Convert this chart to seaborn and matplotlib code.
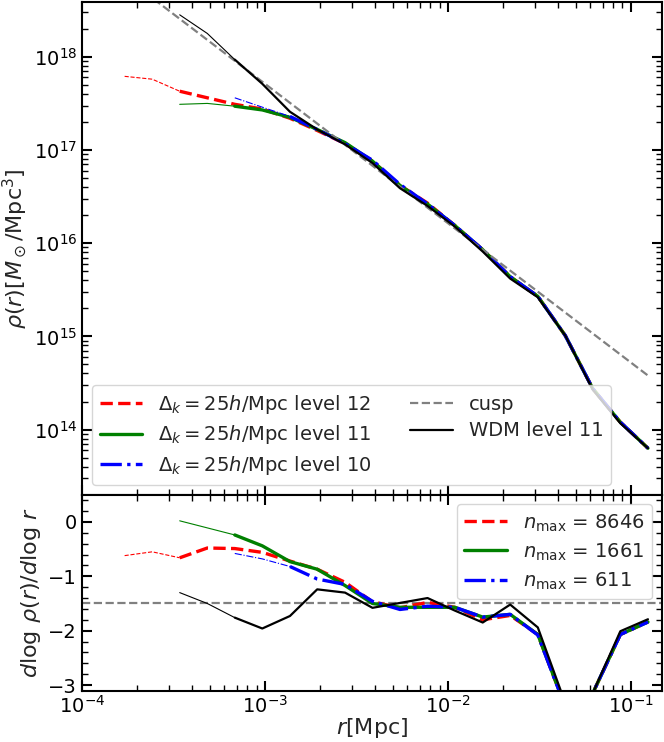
import numpy as np
import pandas as pd
import matplotlib
matplotlib.use("Agg")
import matplotlib.pyplot as plt
import seaborn as sns
from matplotlib.ticker import LogLocator, MultipleLocator, NullFormatter

# ---------------- data ----------------
r_bins = [1.71e-4, 2.42e-4, 3.42e-4, 4.84e-4, 6.84e-4, 9.67e-4, 1.37e-3,
          1.93e-3, 2.74e-3, 3.87e-3, 5.47e-3, 7.74e-3, 1.09e-2, 1.55e-2,
          2.19e-2, 3.10e-2, 4.38e-2, 6.19e-2, 8.76e-2, 1.24e-1]

# density profiles (first radius index of each series)
start_lvl12, start_lvl11, start_lvl10, start_wdm = 0, 2, 4, 2
rho_lvl12 = [6.17e17, 5.75e17, 4.27e17, 3.63e17, 3.09e17, 2.75e17, 2.19e17,
             1.62e17, 1.17e17, 7.59e16, 4.17e16, 2.69e16, 1.55e16, 8.51e15,
             4.37e15, 2.69e15, 1.02e15, 2.75e14, 1.20e14, 6.31e13]
rho_lvl11 = [3.09e17, 3.16e17, 2.95e17, 2.69e17, 2.24e17, 1.66e17, 1.20e17,
             7.59e16, 4.17e16, 2.63e16, 1.55e16, 8.51e15, 4.37e15, 2.69e15,
             1.02e15, 2.75e14, 1.20e14, 6.31e13]
rho_lvl10 = [3.63e17, 2.88e17, 2.29e17, 1.66e17, 1.17e17, 7.76e16, 4.27e16,
             2.63e16, 1.55e16, 8.51e15, 4.37e15, 2.69e15, 1.02e15, 2.75e14,
             1.20e14, 6.31e13]
rho_wdm = [2.82e18, 1.78e18, 9.33e17, 5.13e17, 2.57e17, 1.66e17, 1.15e17,
           7.24e16, 3.89e16, 2.51e16, 1.51e16, 8.13e15, 4.17e15, 2.63e15,
           1.02e15, 2.69e14, 1.17e14, 6.31e13]
cusp_r = [1.71e-4, 1.24e-1]
cusp_rho = [7.2e18, 3.8e14]

# logarithmic slopes
slope_lvl12 = [-0.62, -0.55, -0.66, -0.48, -0.49, -0.56, -0.72, -0.87, -1.11,
               -1.47, -1.58, -1.48, -1.57, -1.80, -1.72, -2.07, -3.40, -3.15,
               -2.07, -1.84]
slope_lvl11 = [0.02, -0.11, -0.24, -0.44, -0.73, -0.87, -1.17, -1.50, -1.57,
               -1.57, -1.57, -1.75, -1.70, -2.07, -3.40, -3.15, -2.07, -1.84]
slope_lvl10 = [-0.58, -0.68, -0.82, -1.05, -1.15, -1.46, -1.61, -1.55, -1.57,
               -1.75, -1.70, -2.08, -3.40, -3.15, -2.07, -1.84]
slope_wdm = [-1.30, -1.50, -1.76, -1.96, -1.73, -1.24, -1.30, -1.58, -1.49,
             -1.40, -1.63, -1.85, -1.52, -1.94, -3.33, -3.15, -2.01, -1.79]
cusp_slope = -1.5

labels_top = [r"$\Delta_k = 25h$/Mpc level 12",
              r"$\Delta_k = 25h$/Mpc level 11",
              r"$\Delta_k = 25h$/Mpc level 10",
              "cusp", "WDM level 11"]
labels_bottom = [r"$n_{\rm max}$ = 8646", r"$n_{\rm max}$ = 1661",
                 r"$n_{\rm max}$ = 611"]

# ---------------- style ----------------
sns.set_style("ticks")
plt.rcParams.update({
    "font.family": ["DejaVu Sans"],
    "mathtext.fontset": "dejavusans",
    "axes.linewidth": 1.5,
    "xtick.direction": "in", "ytick.direction": "in",
    "xtick.top": True, "ytick.right": True,
    "xtick.major.size": 7, "ytick.major.size": 7,
    "xtick.minor.size": 4, "ytick.minor.size": 4,
    "xtick.major.width": 1.5, "ytick.major.width": 1.5,
    "xtick.minor.width": 1.0, "ytick.minor.width": 1.0,
    "xtick.minor.visible": True, "ytick.minor.visible": True,
    "xtick.labelsize": 14, "ytick.labelsize": 14,
    "axes.labelsize": 16, "legend.fontsize": 14,
    "axes.edgecolor": "black",
    "xtick.color": "black", "ytick.color": "black",
})

fig = plt.figure(figsize=(6.64, 7.42), dpi=100)
gs = fig.add_gridspec(2, 1, height_ratios=[493, 196], hspace=0.0,
                      left=0.1235, right=0.997, top=0.997, bottom=0.0694)
ax1 = fig.add_subplot(gs[0])
ax2 = fig.add_subplot(gs[1], sharex=ax1)
for ax in (ax1, ax2):
    ax.set_xscale("log")
ax1.set_yscale("log")

series = [
    ("red", "--", start_lvl12, rho_lvl12, slope_lvl12),
    ("green", "-", start_lvl11, rho_lvl11, slope_lvl11),
    ("blue", "-.", start_lvl10, rho_lvl10, slope_lvl10),
]
n_thin = 3
lw_thin, lw_thick = 0.8, 2.4


def draw(ax, x, y, color, ls, thin_lw, thick_lw, zorder=2):
    sns.lineplot(x=x[:n_thin], y=y[:n_thin], ax=ax, color=color,
                 linestyle=ls, linewidth=thin_lw, estimator=None, sort=False,
                 zorder=zorder)
    sns.lineplot(x=x[n_thin - 1:], y=y[n_thin - 1:], ax=ax, color=color,
                 linestyle=ls, linewidth=thick_lw, estimator=None, sort=False,
                 zorder=zorder)
    return ax.lines[-1]


handles_top, handles_bot = [], []
for color, ls, s0, rho, slope in series:
    rr = r_bins[s0:s0 + len(rho)]
    handles_top.append(draw(ax1, rr, rho, color, ls, lw_thin, lw_thick))
    rr2 = r_bins[s0:s0 + len(slope)]
    handles_bot.append(draw(ax2, rr2, slope, color, ls, lw_thin, lw_thick))

sns.lineplot(x=cusp_r, y=cusp_rho, ax=ax1, color="gray", linestyle="--",
             linewidth=1.6, estimator=None, zorder=2)
h_cusp = ax1.lines[-1]
ax2.axhline(cusp_slope, color="gray", linestyle="--", linewidth=1.6, zorder=1)

rw = r_bins[start_wdm:start_wdm + len(rho_wdm)]
h_wdm = draw(ax1, rw, rho_wdm, "black", "-", 0.8, 1.6, zorder=3)
draw(ax2, rw, slope_wdm, "black", "-", 0.8, 1.6, zorder=3)

handles_top += [h_cusp, h_wdm]

# ---------------- axes ----------------
ax1.set_xlim(1e-4, 0.148)
ax1.set_ylim(2.0e13, 3.85e18)
ax2.set_ylim(-3.1, 0.5)

ax1.yaxis.set_major_locator(LogLocator(base=10, numticks=20))
ax1.yaxis.set_minor_locator(LogLocator(base=10, subs=np.arange(2, 10), numticks=50))
ax1.yaxis.set_minor_formatter(NullFormatter())
ax2.xaxis.set_major_locator(LogLocator(base=10, numticks=20))
ax2.xaxis.set_minor_locator(LogLocator(base=10, subs=np.arange(2, 10), numticks=50))
ax2.xaxis.set_minor_formatter(NullFormatter())
ax2.yaxis.set_major_locator(MultipleLocator(1))
ax2.yaxis.set_minor_locator(MultipleLocator(0.2))
plt.setp(ax1.get_xticklabels(), visible=False)
for ax in (ax1, ax2):
    ax.tick_params(which="both", top=True, right=True, direction="in")

ax1.set_xlabel("")
ax1.set_ylabel(r"$\rho(r)[M_\odot/{\rm Mpc}^3]$")
ax2.set_ylabel(r"$d\log\,\rho(r)/d\log\,r$")
ax2.set_xlabel(r"$r$[Mpc]")
ax1.yaxis.set_label_coords(-0.091, 0.5)
ax2.xaxis.set_label_coords(0.5, -0.132)

ax1.legend(handles_top, labels_top, loc="lower left", ncol=2,
           handlelength=2.2, columnspacing=2.0, labelspacing=0.4)
ax2.legend(handles_bot, labels_bottom, loc="upper right", handlelength=2.2,
           labelspacing=0.4)

fig.savefig("out.png", dpi=100)
